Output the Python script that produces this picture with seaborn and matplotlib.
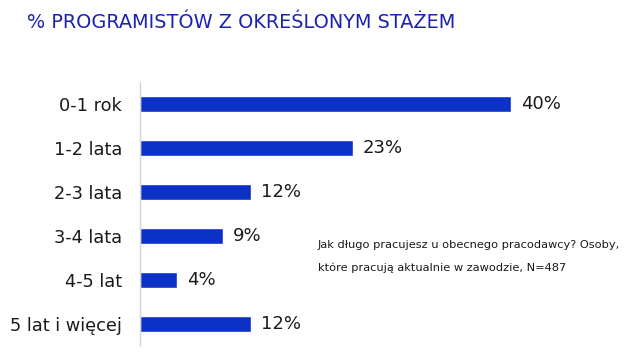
import matplotlib
matplotlib.use("Agg")
import matplotlib.pyplot as plt
import seaborn as sns
import pandas as pd

categories = ["0-1 rok", "1-2 lata", "2-3 lata", "3-4 lata", "4-5 lat", "5 lat i więcej"]
values = [40, 23, 12, 9, 4, 12]
value_labels = ["40%", "23%", "12%", "9%", "4%", "12%"]

title = "% PROGRAMISTÓW Z OKREŚLONYM STAŻEM"
note_lines = ["Jak długo pracujesz u obecnego pracodawcy? Osoby,",
              "które pracują aktualnie w zawodzie, N=487"]

sns.set_style("white")
plt.rcParams["font.family"] = ["DejaVu Sans"]

W, H = 637, 359
fig = plt.figure(figsize=(W / 100, H / 100), dpi=100)
left, right, top, bottom = 140, 600, 82, 346
ax = fig.add_axes([left / W, 1 - bottom / H, (right - left) / W, (bottom - top) / H])

df = pd.DataFrame({"cat": categories, "val": values})
sns.barplot(data=df, x="val", y="cat", orient="h", color="#0B31C6",
            saturation=1, width=0.38, ax=ax)

px_per_unit = 371 / 40
ax.set_xlim(0, (right - left) / px_per_unit)
ax.set_ylim(len(categories) - 0.5, -0.5)

for i, (v, lab) in enumerate(zip(values, value_labels)):
    ax.annotate(lab, xy=(v, i), xytext=(7, 0), textcoords="offset points",
                va="center", ha="left", fontsize=13, color="#1a1a1a")

ax.set_xlabel("")
ax.set_ylabel("")
ax.set_xticks([])
ax.tick_params(axis="y", length=0, pad=13, labelsize=12.8, labelcolor="#1a1a1a")
for s in ["top", "right", "bottom"]:
    ax.spines[s].set_visible(False)
ax.spines["left"].set_color("#D4D4D4")
ax.spines["left"].set_linewidth(1)

fig.text(27 / W, 1 - 23 / H, title, fontsize=13.9, color="#1C22B0",
         ha="left", va="center")
fig.text(318 / W, 1 - 245 / H, note_lines[0], fontsize=8.2, color="#1a1a1a",
         ha="left", va="center")
fig.text(318 / W, 1 - 268 / H, note_lines[1], fontsize=8.2, color="#1a1a1a",
         ha="left", va="center")

fig.savefig("out.png", dpi=100)
